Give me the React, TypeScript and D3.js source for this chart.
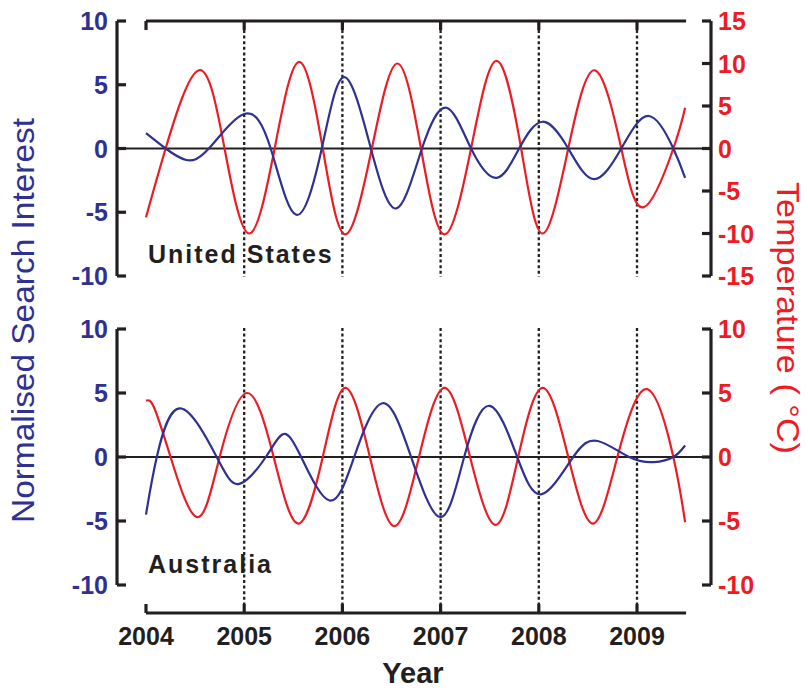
import React from "react"
import * as d3 from "d3"

// years on the x axis
const years = [2004, 2005, 2006, 2007, 2008, 2009]

// United States: search interest (blue, left axis) and temperature (red, right axis)
const usSearch: [number, number][] = [
  [2004.0, 1.2], [2004.2, 0], [2004.41, -0.9], [2004.64, 0], [2005.0, 2.7],
  [2005.27, 0], [2005.53, -5.2], [2005.79, 0], [2006.02, 5.6], [2006.29, 0],
  [2006.55, -4.7], [2006.81, 0], [2007.06, 3.2], [2007.31, 0], [2007.57, -2.3],
  [2007.8, 0], [2008.04, 2.1], [2008.3, 0], [2008.56, -2.4], [2008.84, 0],
  [2009.12, 2.55], [2009.37, 0], [2009.49, -2.3],
]
const usTemp: [number, number][] = [
  [2004.0, -8.1], [2004.2, 0], [2004.54, 9.2], [2004.8, 0], [2005.05, -10.0],
  [2005.31, 0], [2005.56, 10.2], [2005.8, 0], [2006.03, -10.1], [2006.3, 0],
  [2006.56, 10.0], [2006.8, 0], [2007.04, -10.1], [2007.31, 0], [2007.57, 10.3],
  [2007.82, 0], [2008.04, -10.0], [2008.3, 0], [2008.57, 9.2], [2008.84, 0],
  [2009.07, -6.9], [2009.37, 0], [2009.49, 4.8],
]

// Australia
const auSearch: [number, number][] = [
  [2004.0, -4.5], [2004.11, 0], [2004.35, 3.8], [2004.72, 0], [2004.95, -2.1],
  [2005.22, 0], [2005.4, 1.8], [2005.58, 0], [2005.87, -3.4], [2006.12, 0],
  [2006.41, 4.2], [2006.7, 0], [2007.0, -4.7], [2007.24, 0], [2007.5, 4.0],
  [2007.78, 0], [2008.03, -2.9], [2008.35, 0], [2008.6, 1.25], [2008.92, 0],
  [2009.17, -0.4], [2009.37, 0], [2009.49, 0.9],
]
const auTemp: [number, number][] = [
  [2004.0, 4.4], [2004.08, 3.9], [2004.25, 0], [2004.52, -4.7], [2004.75, 0],
  [2005.03, 5.0], [2005.3, 0], [2005.55, -5.2], [2005.8, 0], [2006.03, 5.4],
  [2006.28, 0], [2006.53, -5.4], [2006.78, 0], [2007.04, 5.4], [2007.3, 0],
  [2007.56, -5.3], [2007.79, 0], [2008.04, 5.4], [2008.3, 0], [2008.55, -5.2],
  [2008.8, 0], [2009.1, 5.3], [2009.37, 0], [2009.49, -5.1],
]

const usLeftTicks = [10, 5, 0, -5, -10]
const usRightTicks = [15, 10, 5, 0, -5, -10, -15]
const auLeftTicks = [10, 5, 0, -5, -10]
const auRightTicks = [10, 5, 0, -5, -10]

const BLUE = "#2E3192"
const RED = "#ED1C24"
const INK = "#231F20"
const FONT = "Arial, 'Liberation Sans', Helvetica, sans-serif"

const leftX = 117
const rightX = 711
const x = d3.scaleLinear().domain([2004, 2009]).range([146, 637])
const xEnd = x(2009.5)

type Panel = {
  name: string
  top: number
  bottom: number
  left: d3.ScaleLinear<number, number>
  right: d3.ScaleLinear<number, number>
  leftTicks: number[]
  rightTicks: number[]
  search: [number, number][]
  temp: [number, number][]
  labelY: number
}

const panels: Panel[] = [
  {
    name: "United States",
    top: 21,
    bottom: 276,
    left: d3.scaleLinear().domain([-10, 10]).range([276, 21]),
    right: d3.scaleLinear().domain([-15, 15]).range([276, 21]),
    leftTicks: usLeftTicks,
    rightTicks: usRightTicks,
    search: usSearch,
    temp: usTemp,
    labelY: 263,
  },
  {
    name: "Australia",
    top: 329,
    bottom: 585,
    left: d3.scaleLinear().domain([-10, 10]).range([585, 329]),
    right: d3.scaleLinear().domain([-10, 10]).range([585, 329]),
    leftTicks: auLeftTicks,
    rightTicks: auRightTicks,
    search: auSearch,
    temp: auTemp,
    labelY: 573,
  },
]

const topAxisY = 21
const bottomAxisY = 613

function PanelView({ p, index }: { p: Panel; index: number }) {
  const searchLine = d3
    .line<[number, number]>()
    .x(d => x(d[0]))
    .y(d => p.left(d[1]))
    .curve(d3.curveNatural)
  const tempLine = d3
    .line<[number, number]>()
    .x(d => x(d[0]))
    .y(d => p.right(d[1]))
    .curve(d3.curveNatural)
  const y0 = p.left(0)
  const dotTop = index === 0 ? topAxisY + 9 : p.top - 1
  const dotBottom = index === 0 ? p.bottom + 1 : bottomAxisY - 9
  return (
    <g>
      {years.slice(1).map(yr => (
        <line key={yr} x1={x(yr)} x2={x(yr)} y1={dotTop} y2={dotBottom}
          stroke={INK} strokeWidth={2.3} strokeDasharray="3,2.6" />
      ))}
      <line x1={leftX} x2={rightX} y1={y0} y2={y0} stroke={INK} strokeWidth={2} />
      <path d={tempLine(p.temp) || ""} fill="none" stroke={RED} strokeWidth={2.2} />
      <path d={searchLine(p.search) || ""} fill="none" stroke={BLUE} strokeWidth={2.2} />

      {/* left axis */}
      <line x1={leftX} x2={leftX} y1={p.top} y2={p.bottom} stroke={INK} strokeWidth={3.2} />
      {p.leftTicks.map(t => (
        <g key={t}>
          <line x1={leftX} x2={leftX + 9} y1={p.left(t)} y2={p.left(t)} stroke={INK} strokeWidth={3.2} />
          <text x={108} y={p.left(t)} dy="0.36em" textAnchor="end" fontSize={25}
            fontWeight="bold" fill={BLUE} fontFamily={FONT}>{t}</text>
        </g>
      ))}

      {/* right axis */}
      <line x1={rightX} x2={rightX} y1={p.top} y2={p.bottom} stroke={INK} strokeWidth={3.2} />
      {p.rightTicks.map(t => (
        <g key={t}>
          <line x1={rightX - 9} x2={rightX} y1={p.right(t)} y2={p.right(t)} stroke={INK} strokeWidth={3.2} />
          <text x={718} y={p.right(t)} dy="0.36em" textAnchor="start" fontSize={25}
            fontWeight="bold" fill={RED} fontFamily={FONT}>{t}</text>
        </g>
      ))}

      <text x={148} y={p.labelY} fontSize={25} fontWeight="bold" fill={INK}
        fontFamily={FONT} letterSpacing={2}>{p.name}</text>
    </g>
  )
}

export default function App() {
  return (
    <svg width={808} height={688} style={{ position: "absolute", left: 0, top: 0, background: "#fff" }}>
      <rect width={808} height={688} fill="#fff" />
      {panels.map((p, i) => <PanelView key={p.name} p={p} index={i} />)}

      {/* top x axis line */}
      <line x1={x(2004)} x2={xEnd} y1={topAxisY} y2={topAxisY} stroke={INK} strokeWidth={3.2} />
      {years.map(yr => (
        <line key={"tt" + yr} x1={x(yr)} x2={x(yr)} y1={topAxisY} y2={topAxisY + 9} stroke={INK} strokeWidth={3.2} />
      ))}

      {/* bottom x axis */}
      <line x1={x(2004)} x2={xEnd} y1={bottomAxisY} y2={bottomAxisY} stroke={INK} strokeWidth={3.2} />
      {years.map(yr => (
        <g key={"bt" + yr}>
          <line x1={x(yr)} x2={x(yr)} y1={bottomAxisY - 9} y2={bottomAxisY} stroke={INK} strokeWidth={3.2} />
          <text x={x(yr)} y={645} textAnchor="middle" fontSize={25} fontWeight="bold"
            fill={INK} fontFamily={FONT}>{yr}</text>
        </g>
      ))}
      <text x={413} y={683} textAnchor="middle" fontSize={29} fontWeight="bold"
        fill={INK} fontFamily={FONT}>Year</text>

      <text transform="translate(34,523) rotate(-90)" textAnchor="start" fontSize={31}
        fill={BLUE} fontFamily={FONT} textLength={405} lengthAdjust="spacingAndGlyphs">
        Normalised Search Interest
      </text>
      <text transform="translate(777,182) rotate(90)" textAnchor="start" fontSize={31}
        fill={RED} fontFamily={FONT} textLength={272} lengthAdjust="spacingAndGlyphs">
        Temperature ( °C)
      </text>
    </svg>
  )
}
